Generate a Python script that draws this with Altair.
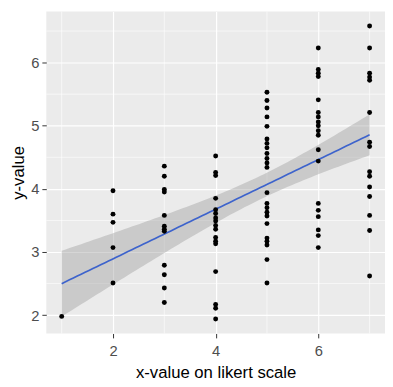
import altair as alt
import numpy as np
import pandas as pd

# y-values per x level (likert 1..7)
y_at_1 = [1.98]
y_at_2 = [3.97, 3.60, 3.47, 3.07, 2.51]
y_at_3 = [4.36, 4.20, 3.99, 3.95, 3.58, 3.41, 3.36, 3.33, 2.79, 2.64, 2.43, 2.20]
y_at_4 = [4.52, 4.26, 4.21, 3.85, 3.67, 3.61, 3.54, 3.49, 3.42, 3.36, 3.23, 3.17,
          3.13, 2.69, 2.17, 2.11, 1.94]
y_at_5 = [5.53, 5.40, 5.28, 5.14, 4.99, 4.79, 4.72, 4.65, 4.56, 4.48, 4.41, 4.34,
          3.94, 3.77, 3.70, 3.63, 3.57, 3.45, 3.22, 3.17, 3.11, 2.88, 2.51]
y_at_6 = [6.23, 5.89, 5.83, 5.78, 5.41, 5.21, 5.14, 5.06, 5.00, 4.92, 4.85, 4.62,
          4.44, 3.77, 3.66, 3.56, 3.35, 3.26, 3.07]
y_at_7 = [6.58, 6.23, 5.83, 5.77, 5.72, 5.21, 4.74, 4.67, 4.27, 4.20, 4.03, 3.88,
          3.58, 3.34, 2.62]

levels = [1, 2, 3, 4, 5, 6, 7]
groups = [y_at_1, y_at_2, y_at_3, y_at_4, y_at_5, y_at_6, y_at_7]

x_major = [2, 4, 6]
x_minor = [1, 3, 5, 7]
y_major = [2, 3, 4, 5, 6]
y_minor = [2.5, 3.5, 4.5, 5.5, 6.5]

xs, ys = [], []
for lv, g in zip(levels, groups):
    xs += [lv] * len(g)
    ys += g
pts = pd.DataFrame({"x": xs, "y": ys})

# linear fit with 95% confidence band (as geom_smooth(method="lm"))
x = np.array(xs, float)
y = np.array(ys, float)
n = len(x)
b1, b0 = np.polyfit(x, y, 1)
resid = y - (b0 + b1 * x)
s = np.sqrt((resid ** 2).sum() / (n - 2))
sxx = ((x - x.mean()) ** 2).sum()
grid = np.linspace(1, 7, 80)
fit = b0 + b1 * grid
se = s * np.sqrt(1 / n + (grid - x.mean()) ** 2 / sxx)
t = 1.987
fitdf = pd.DataFrame({"x": grid, "fit": fit, "lo": fit - t * se, "hi": fit + t * se})

xscale = alt.Scale(domain=[0.7, 7.3], nice=False, zero=False)
yscale = alt.Scale(domain=[1.71, 6.81], nice=False, zero=False)

common = dict(grid=True, gridColor="white", gridWidth=1.2, domain=False,
              tickColor="#333333", tickSize=4.5, labelColor="#4D4D4D", labelFontSize=15,
              titleFontSize=17, titleFontWeight="normal",
              titleColor="black", labelFont="Liberation Sans", titleFont="Liberation Sans")
xaxis = alt.Axis(values=x_major, title="x-value on likert scale", labelPadding=6,
                 titlePadding=6, **common)
yaxis = alt.Axis(values=y_major, title="y-value", labelPadding=3, titlePadding=3, **common)

vminor = alt.Chart(pd.DataFrame({"v": x_minor})).mark_rule(
    color="white", strokeWidth=0.6).encode(x=alt.X("v:Q", scale=xscale, axis=xaxis))
hminor = alt.Chart(pd.DataFrame({"v": y_minor})).mark_rule(
    color="white", strokeWidth=0.6).encode(y=alt.Y("v:Q", scale=yscale, axis=yaxis))

band = alt.Chart(fitdf).mark_area(color="#999999", opacity=0.4).encode(
    x=alt.X("x:Q", scale=xscale, axis=xaxis),
    y=alt.Y("lo:Q", scale=yscale, axis=yaxis),
    y2="hi:Q")
line = alt.Chart(fitdf).mark_line(color="#3D63CC", strokeWidth=1.7).encode(
    x=alt.X("x:Q", scale=xscale, axis=xaxis),
    y=alt.Y("fit:Q", scale=yscale, axis=yaxis))
points = alt.Chart(pts).mark_circle(color="black", opacity=1, size=25).encode(
    x=alt.X("x:Q", scale=xscale, axis=xaxis),
    y=alt.Y("y:Q", scale=yscale, axis=yaxis))

chart = alt.layer(vminor, hminor, band, line, points).properties(
    width=345, height=328,
    autosize=alt.AutoSizeParams(type="none"),
    padding={"left": 39, "top": 0, "right": 0, "bottom": 50},
    background="white",
).configure_view(fill="#EBEBEB", stroke=None)

chart.save("out.html", embed_options={"renderer": "svg", "actions": False})
